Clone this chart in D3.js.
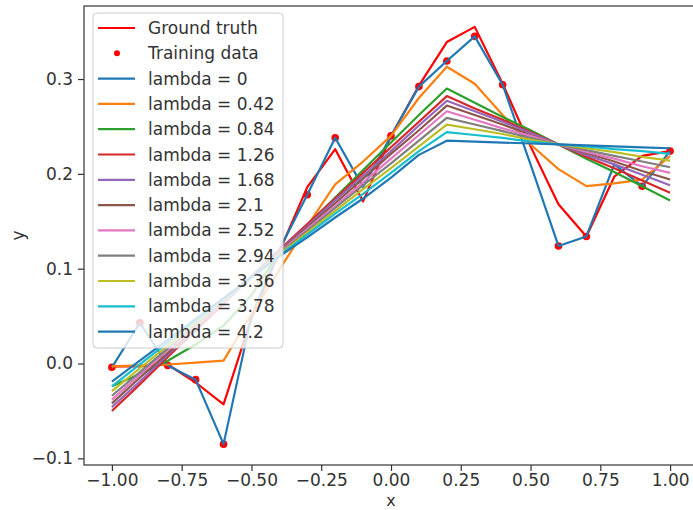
<!DOCTYPE html>
<html>
<head>
<meta charset="utf-8">
<script src="https://cdn.jsdelivr.net/npm/d3@7"></script>
<style>
  body { margin: 0; background: #fff; }
  svg { display: block; }
  text { font-family: "DejaVu Sans", sans-serif; }
</style>
</head>
<body>
<div id="chart"></div>
<script>
const WIDTH = 693;
const HEIGHT = 510;

// grid of x values used for every curve
const xGrid = [-1, -0.9, -0.8, -0.7, -0.6, -0.5, -0.4, -0.3, -0.2, -0.1, 0, 0.1, 0.2, 0.3, 0.4, 0.5, 0.6, 0.7, 0.8, 0.9, 1.0];

const groundTruth = [-0.003, -0.003, -0.001, -0.020, -0.043, 0.048, 0.118, 0.186, 0.226, 0.171, 0.240, 0.293, 0.339, 0.355, 0.295, 0.229, 0.168, 0.134, 0.197, 0.219, 0.224];

const trainX = [-1, -0.9, -0.8, -0.7, -0.6, -0.3, -0.2, 0, 0.1, 0.2, 0.3, 0.4, 0.6, 0.7, 0.9, 1.0];
const trainY = [-0.004, 0.043, -0.002, -0.017, -0.085, 0.178, 0.238, 0.240, 0.292, 0.319, 0.345, 0.294, 0.124, 0.134, 0.187, 0.224];

const lambdas = ["0", "0.42", "0.84", "1.26", "1.68", "2.1", "2.52", "2.94", "3.36", "3.78", "4.2"];

const fit0    = [-0.004, 0.043, -0.002, -0.017, -0.085, 0.050, 0.120, 0.178, 0.238, 0.186, 0.240, 0.292, 0.319, 0.345, 0.294, 0.210, 0.124, 0.134, 0.210, 0.187, 0.224];
const fit042  = [-0.003, -0.002, -0.001, 0.001, 0.003, 0.052, 0.099, 0.145, 0.189, 0.213, 0.240, 0.280, 0.313, 0.295, 0.262, 0.231, 0.205, 0.187, 0.190, 0.194, 0.219];
const fit084  = [-0.024, -0.011, 0.003, 0.020, 0.040, 0.072, 0.117, 0.146, 0.175, 0.204, 0.233, 0.262, 0.290, 0.275, 0.260, 0.246, 0.231, 0.216, 0.202, 0.187, 0.172];
const fit126  = [-0.050, -0.022, 0.007, 0.035, 0.063, 0.092, 0.120, 0.147, 0.174, 0.201, 0.228, 0.255, 0.282, 0.269, 0.257, 0.244, 0.231, 0.218, 0.206, 0.193, 0.180];
const fit168  = [-0.046, -0.019, 0.009, 0.037, 0.064, 0.092, 0.119, 0.145, 0.172, 0.198, 0.224, 0.251, 0.277, 0.266, 0.255, 0.243, 0.231, 0.220, 0.210, 0.199, 0.188];
const fit21   = [-0.042, -0.015, 0.011, 0.038, 0.065, 0.091, 0.118, 0.144, 0.169, 0.195, 0.221, 0.246, 0.272, 0.262, 0.252, 0.241, 0.231, 0.222, 0.213, 0.203, 0.194];
const fit252  = [-0.038, -0.012, 0.014, 0.039, 0.065, 0.091, 0.117, 0.142, 0.166, 0.191, 0.216, 0.241, 0.266, 0.257, 0.248, 0.240, 0.231, 0.223, 0.216, 0.208, 0.201];
const fit294  = [-0.034, -0.009, 0.016, 0.041, 0.066, 0.091, 0.116, 0.140, 0.164, 0.188, 0.211, 0.235, 0.259, 0.252, 0.245, 0.238, 0.231, 0.225, 0.219, 0.213, 0.207];
const fit336  = [-0.029, -0.005, 0.019, 0.043, 0.067, 0.091, 0.115, 0.138, 0.161, 0.184, 0.206, 0.229, 0.252, 0.247, 0.242, 0.236, 0.231, 0.227, 0.223, 0.218, 0.214];
const fit378  = [-0.024, -0.001, 0.022, 0.045, 0.068, 0.091, 0.114, 0.136, 0.158, 0.179, 0.201, 0.224, 0.244, 0.241, 0.238, 0.234, 0.231, 0.229, 0.226, 0.224, 0.221];
const fit42   = [-0.019, 0.003, 0.025, 0.047, 0.069, 0.091, 0.113, 0.133, 0.154, 0.174, 0.196, 0.220, 0.235, 0.234, 0.233, 0.232, 0.231, 0.230, 0.229, 0.228, 0.227];

const fits = [fit0, fit042, fit084, fit126, fit168, fit21, fit252, fit294, fit336, fit378, fit42];

const xTicks = [-1, -0.75, -0.5, -0.25, 0, 0.25, 0.5, 0.75, 1];
const yTicks = [-0.1, 0, 0.1, 0.2, 0.3];

const PALETTE = ['#1f77b4', '#ff7f0e', '#2ca02c', '#d62728', '#9467bd', '#8c564b', '#e377c2', '#7f7f7f', '#bcbd22', '#17becf'];
const TRUTH = '#ff0000';

const margin = {left: 84, top: 6, right: 698, bottom: 465};

var svg = d3.select("#chart").append("svg")
    .attr("width", WIDTH)
    .attr("height", HEIGHT);

var xScale = d3.scaleLinear().domain([-1.1, 1.1]).range([margin.left, margin.right]);
var yScale = d3.scaleLinear().domain([-0.107, 0.377]).range([margin.bottom, margin.top]);

var line = d3.line()
    .x((d, i) => xScale(xGrid[i]))
    .y(d => yScale(d));

svg.append("clipPath").attr("id", "plot")
  .append("rect")
    .attr("x", margin.left).attr("y", margin.top)
    .attr("width", margin.right - margin.left).attr("height", margin.bottom - margin.top);

var plot = svg.append("g").attr("clip-path", "url(#plot)");

plot.append("path")
    .datum(groundTruth)
    .attr("fill", "none")
    .attr("stroke", TRUTH)
    .attr("stroke-width", 2.2)
    .attr("stroke-linejoin", "round")
    .attr("d", line);

plot.selectAll("circle.train")
    .data(trainX)
    .enter().append("circle")
    .attr("class", "train")
    .attr("cx", d => xScale(d))
    .attr("cy", (d, i) => yScale(trainY[i]))
    .attr("r", 3.8)
    .attr("fill", TRUTH);

fits.forEach((f, i) => {
    plot.append("path")
        .datum(f)
        .attr("fill", "none")
        .attr("stroke", PALETTE[i % PALETTE.length])
        .attr("stroke-width", 2.2)
        .attr("stroke-linejoin", "round")
        .attr("d", line);
});

// axes
var xAxis = svg.append("g")
    .attr("transform", `translate(0,${margin.bottom})`)
    .call(d3.axisBottom(xScale).tickValues(xTicks).tickFormat(d3.format(".2f")).tickSize(6).tickPadding(3));

var yAxis = svg.append("g")
    .attr("transform", `translate(${margin.left},0)`)
    .call(d3.axisLeft(yScale).tickValues(yTicks).tickFormat(d3.format(".1f")).tickSize(6).tickPadding(5));

[xAxis, yAxis].forEach(a => {
    a.select(".domain").remove();
    a.selectAll("line").attr("stroke", "#333").attr("stroke-width", 1.2);
    a.selectAll("text").attr("fill", "#333").style("font-size", "17px").style("font-family", "DejaVu Sans, sans-serif");
});

// frame
svg.append("rect")
    .attr("x", margin.left).attr("y", margin.top)
    .attr("width", margin.right - margin.left).attr("height", margin.bottom - margin.top)
    .attr("fill", "none")
    .attr("stroke", "#333")
    .attr("stroke-width", 1.2);

svg.append("text")
    .attr("x", xScale(0)).attr("y", 506)
    .attr("text-anchor", "middle")
    .attr("fill", "#333")
    .style("font-size", "16px")
    .text("x");

svg.append("text")
    .attr("transform", `translate(24,${(margin.top + margin.bottom) / 2}) rotate(-90)`)
    .attr("text-anchor", "middle")
    .attr("fill", "#333")
    .style("font-size", "17px")
    .text("y");

// legend
const legendLabels = ["Ground truth", "Training data"].concat(lambdas.map(l => `lambda = ${l}`));

var legend = svg.append("g");
legend.append("rect")
    .attr("x", 93).attr("y", 13)
    .attr("width", 190).attr("height", 335)
    .attr("rx", 4)
    .attr("fill", "#fff").attr("fill-opacity", 0.8)
    .attr("stroke", "#ccc").attr("stroke-width", 1);

var items = legend.selectAll("g.item")
    .data(legendLabels)
    .enter().append("g")
    .attr("class", "item")
    .attr("transform", (d, i) => `translate(0,${28 + i * 25.3})`);

items.each(function(d, i) {
    const g = d3.select(this);
    if (i === 1) {
        g.append("circle").attr("cx", 117).attr("cy", 0).attr("r", 3).attr("fill", TRUTH);
    } else {
        g.append("line")
            .attr("x1", 98).attr("x2", 135)
            .attr("stroke", i === 0 ? TRUTH : PALETTE[(i - 2) % PALETTE.length])
            .attr("stroke-width", 2.2);
    }
    g.append("text")
        .attr("x", 148).attr("y", 6)
        .attr("fill", "#333")
        .style("font-size", "17px")
        .text(d);
});
</script>
</body>
</html>
